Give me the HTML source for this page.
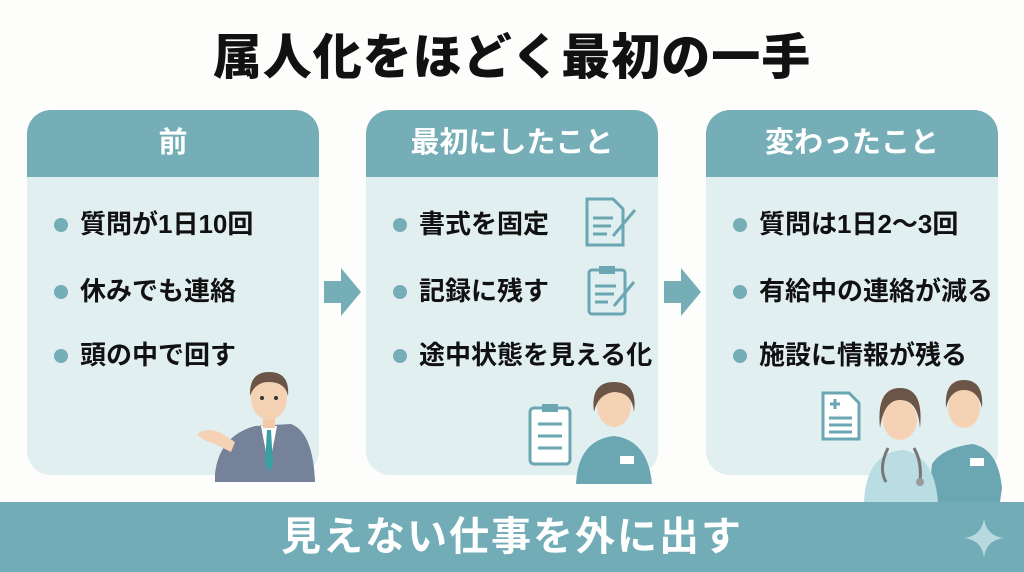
<!DOCTYPE html>
<html><head><meta charset="utf-8"><style>
*{margin:0;padding:0;box-sizing:border-box}
body{width:1024px;height:572px;background:#fdfdfc;position:relative;overflow:hidden;font-family:"Liberation Sans","Noto Sans CJK JP",sans-serif}
.title{position:absolute;top:28px;left:0;width:1024px;text-align:center;font-size:49px;font-weight:900;color:#111;letter-spacing:1px;line-height:60px}
.panel{position:absolute;top:110px;width:292px;height:365px;background:#e2eff1;border-radius:24px;overflow:hidden}
.hd{height:67px;background:#76aeb8;color:#fff;font-size:29px;font-weight:700;text-align:center;line-height:67px}
.it{position:absolute;left:53px;font-size:26px;font-weight:700;color:#111;white-space:nowrap;line-height:34px}
.it:before{content:"";position:absolute;left:-26px;top:11px;width:14px;height:14px;border-radius:50%;background:#76aeb8}
.arrow{position:absolute;top:268px}
.bar{position:absolute;left:0;top:502px;width:1024px;height:70px;background:#72adb7;color:#fff;font-size:40px;font-weight:700;text-align:center;line-height:70px;letter-spacing:2px}
svg{position:absolute}
</style></head><body>
<div class="title">属人化をほどく最初の一手</div>

<div class="panel" style="left:27px"><div class="hd">前</div>
<div class="it" style="top:97px">質問が1日10回</div>
<div class="it" style="top:164px">休みでも連絡</div>
<div class="it" style="top:228px">頭の中で回す</div></div>

<div class="panel" style="left:366px"><div class="hd">最初にしたこと</div>
<div class="it" style="top:97px">書式を固定</div>
<div class="it" style="top:164px">記録に残す</div>
<div class="it" style="top:228px">途中状態を見える化</div></div>

<div class="panel" style="left:706px"><div class="hd">変わったこと</div>
<div class="it" style="top:97px">質問は1日2〜3回</div>
<div class="it" style="top:164px">有給中の連絡が減る</div>
<div class="it" style="top:228px">施設に情報が残る</div></div>

<svg class="arrow" style="left:324px" width="38" height="48"><polygon points="0,13 17,13 17,0 37,24 17,48 17,35 0,35" fill="#76aeb8"/></svg>
<svg class="arrow" style="left:664px" width="38" height="48"><polygon points="0,13 17,13 17,0 37,24 17,48 17,35 0,35" fill="#76aeb8"/></svg>

<svg style="left:583px;top:196px" width="56" height="52"><path d="M4 3h26l10 10v36H4z" fill="none" stroke="#6aa7b2" stroke-width="3"/><g stroke="#6aa7b2" stroke-width="3"><line x1="10" y1="22" x2="30" y2="22"/><line x1="10" y1="30" x2="28" y2="30"/><line x1="10" y1="38" x2="24" y2="38"/><line x1="30" y1="40" x2="52" y2="14"/></g></svg>
<svg style="left:586px;top:264px" width="52" height="54"><rect x="3" y="6" width="36" height="44" rx="3" fill="none" stroke="#6aa7b2" stroke-width="3"/><rect x="13" y="2" width="16" height="8" fill="#6aa7b2"/><g stroke="#6aa7b2" stroke-width="3"><line x1="9" y1="22" x2="30" y2="22"/><line x1="9" y1="30" x2="28" y2="30"/><line x1="9" y1="38" x2="22" y2="38"/><line x1="28" y1="42" x2="48" y2="18"/></g></svg>

<svg style="left:195px;top:368px" width="125" height="114">
<path d="M20 106 Q24 68 60 58 L96 56 Q118 64 120 114 L20 114Z" fill="#76819a"/>
<polygon points="66,58 82,58 74,100" fill="#fff"/><polygon points="72,62 76,62 78,96 74,104 70,96" fill="#3a9ea5"/>
<rect x="68" y="44" width="12" height="16" fill="#f3c9a8"/>
<ellipse cx="74" cy="30" rx="18" ry="22" fill="#f6d2b4"/>
<path d="M55 28 Q54 4 74 4 Q95 4 93 28 Q90 14 74 14 Q60 14 55 28Z" fill="#6b5546"/>
<circle cx="67" cy="30" r="2" fill="#333"/><circle cx="81" cy="30" r="2" fill="#333"/>
<path d="M2 66 Q14 58 28 66 L40 74 L36 84 L20 76 Q6 72 2 66Z" fill="#f6d2b4"/>
</svg>

<svg style="left:528px;top:378px" width="128" height="106">
<rect x="2" y="30" width="40" height="56" rx="4" fill="#fff" stroke="#6aa7b2" stroke-width="3"/><rect x="14" y="26" width="16" height="8" fill="#6aa7b2"/>
<g stroke="#6aa7b2" stroke-width="3"><line x1="10" y1="46" x2="34" y2="46"/><line x1="10" y1="58" x2="34" y2="58"/><line x1="10" y1="70" x2="34" y2="70"/></g>
<path d="M48 106 Q50 62 86 58 Q120 62 124 106Z" fill="#6aa7b2"/>
<ellipse cx="86" cy="28" rx="17" ry="21" fill="#f6d2b4"/>
<path d="M66 34 Q62 4 86 4 Q110 4 106 34 Q104 14 86 14 Q70 16 66 34Z" fill="#6b5546"/>
<rect x="92" y="78" width="14" height="8" fill="#fff"/>
</svg>

<svg style="left:820px;top:390px" width="42" height="52"><path d="M3 3h26l10 10v36H3z" fill="#fff" stroke="#6aa7b2" stroke-width="3"/><g stroke="#6aa7b2" stroke-width="3"><line x1="10" y1="14" x2="20" y2="14"/><line x1="15" y1="9" x2="15" y2="19"/><line x1="9" y1="28" x2="32" y2="28"/><line x1="9" y1="35" x2="32" y2="35"/><line x1="9" y1="42" x2="32" y2="42"/></g></svg>
<svg style="left:862px;top:378px" width="142" height="124">
<path d="M66 124 L70 86 Q80 70 110 66 Q136 70 140 110 L138 124Z" fill="#6aa7b2"/>
<ellipse cx="102" cy="30" rx="16" ry="20" fill="#f6d2b4"/>
<path d="M84 30 Q82 2 102 2 Q122 2 120 30 Q116 12 102 12 Q88 12 84 30Z" fill="#6b5546"/>
<rect x="108" y="80" width="14" height="8" fill="#fff"/>
<path d="M2 124 Q4 76 40 72 Q72 76 76 124Z" fill="#b9dde2"/>
<ellipse cx="38" cy="42" rx="17" ry="20" fill="#f6d2b4"/>
<path d="M18 50 Q14 10 38 10 Q62 10 58 50 Q56 22 38 22 Q22 22 18 50Z" fill="#6b5546"/>
<path d="M26 70 Q16 90 24 104 M52 70 Q60 84 58 102" stroke="#777" stroke-width="3" fill="none"/><circle cx="58" cy="104" r="4" fill="#999"/>
</svg>

<div class="bar">見えない仕事を外に出す</div>
<svg style="left:964px;top:518px" width="40" height="40"><path d="M20 0 Q22 18 40 20 Q22 22 20 40 Q18 22 0 20 Q18 18 20 0Z" fill="#b8d9de"/></svg>
</body></html>
